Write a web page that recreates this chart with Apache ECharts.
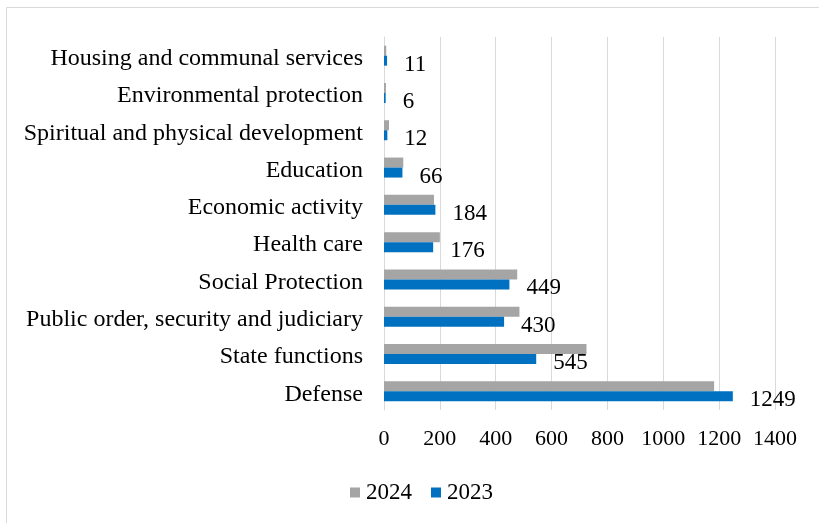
<!DOCTYPE html>
<html>
<head>
<meta charset="utf-8">
<script src="https://cdn.jsdelivr.net/npm/echarts@6/dist/echarts.min.js"></script>
<style>html,body{margin:0;padding:0;background:#fff;}#c{width:819px;height:523px;}</style>
</head>
<body>
<div id="c"></div>
<script>
var categories = ["Housing and communal services","Environmental protection","Spiritual and physical development","Education","Economic activity","Health care","Social Protection","Public order, security and judiciary","State functions","Defense"];
var values2024 = [8, 7, 18, 69, 179, 200, 477, 485, 725, 1182];
var values2023 = [11, 6, 12, 66, 184, 176, 449, 430, 545, 1249];
var xTicks = [0, 200, 400, 600, 800, 1000, 1200, 1400];

var chart = echarts.init(document.getElementById('c'));
var font = '"Liberation Serif", "Times New Roman", serif';
chart.setOption({
  animation: false,
  backgroundColor: '#fff',
  graphic: [{
    type: 'rect', shape: {x: 6.5, y: 7.5, width: 830, height: 530},
    style: {fill: 'none', stroke: '#d9d9d9', lineWidth: 1}, silent: true
  }],
  grid: {left: 384, right: 44, top: 37, bottom: 113, containLabel: false},
  legend: {
    bottom: 14, left: 345,
    data: ['2024', '2023'],
    itemWidth: 10, itemHeight: 10, itemGap: 19,
    icon: 'rect',
    textStyle: {fontFamily: font, fontSize: 23, color: '#000', padding: [0,0,0,1]}
  },
  xAxis: {
    type: 'value', min: xTicks[0], max: xTicks[xTicks.length-1], interval: 200,
    axisLine: {show: false}, axisTick: {show: false},
    splitLine: {lineStyle: {color: '#d9d9d9', width: 1}},
    axisLabel: {fontFamily: font, fontSize: 22, color: '#000', margin: 18,
      formatter: function (v) { return String(v); }}
  },
  yAxis: {
    type: 'category', data: categories, inverse: true,
    axisLine: {show: true, lineStyle: {color: '#d9d9d9'}}, axisTick: {show: false},
    axisLabel: {fontFamily: font, fontSize: 24, color: '#000', margin: 21,
      verticalAlign: 'top', lineHeight: 6}
  },
  series: [
    {name: '2024', type: 'bar', data: values2024, barWidth: 10, barGap: '0%',
     itemStyle: {color: '#a5a5a5'}},
    {name: '2023', type: 'bar', data: values2023, barWidth: 10, barGap: '0%',
     itemStyle: {color: '#0070c0'},
     label: {show: true, position: 'right', distance: 17, offset: [0, 4],
       fontFamily: font, fontSize: 23, color: '#000'}}
  ]
});
</script>
</body>
</html>
